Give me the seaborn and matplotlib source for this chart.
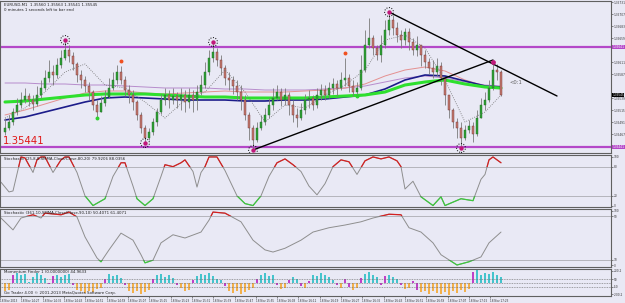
import numpy as np
import matplotlib
matplotlib.use("Agg")
import matplotlib.pyplot as plt
import matplotlib.transforms as mtransforms
from matplotlib.patches import Rectangle
import seaborn as sns

sns.set_theme(style="white")
plt.rcParams['font.family'] = ['DejaVu Sans']

# ---------------- data ----------------
first_open = 1.35471
close = [1.35479, 1.35491, 1.35511, 1.35525, 1.35535, 1.35543, 1.35535, 1.35527, 1.35545, 1.35559,
         1.35579, 1.35591, 1.35585, 1.35605, 1.35619, 1.35635, 1.35623, 1.35607, 1.35585, 1.35575,
         1.35563, 1.35551, 1.35525, 1.35511, 1.35529, 1.35541, 1.35559, 1.35575, 1.35591, 1.35575,
         1.35555, 1.35545, 1.35531, 1.35505, 1.35479, 1.35459, 1.35471, 1.35491, 1.35511, 1.35535,
         1.35545, 1.35535, 1.35543, 1.35535, 1.35545, 1.35531, 1.35545, 1.35535, 1.35551, 1.35565,
         1.35591, 1.35619, 1.35631, 1.35615, 1.35599, 1.35579, 1.35575, 1.35563, 1.35551, 1.35535,
         1.35505, 1.35479, 1.35455, 1.35479, 1.35491, 1.35505, 1.35525, 1.35539, 1.35551, 1.35535,
         1.35545, 1.35525, 1.35505, 1.35499, 1.35515, 1.35535, 1.35539, 1.35525, 1.35545, 1.35555,
         1.35545, 1.35559, 1.35567, 1.35559, 1.35575, 1.35579, 1.35563, 1.35551, 1.35559, 1.35595,
         1.35645, 1.35659, 1.35639, 1.35625, 1.35645, 1.35675, 1.35695, 1.35679, 1.35665, 1.35655,
         1.35671, 1.35651, 1.35635, 1.35645, 1.35625, 1.35611, 1.35599, 1.35591, 1.35603, 1.35579,
         1.35545, 1.35515, 1.35491, 1.35479, 1.35459, 1.35475, 1.35483, 1.35467, 1.35499, 1.35525,
         1.35535, 1.35559, 1.35595, 1.35591, 1.35545]
high = [1.35499, 1.35505, 1.35519, 1.35539, 1.35551, 1.35559, 1.35549, 1.35545, 1.35563, 1.35575,
        1.35595, 1.35615, 1.35605, 1.35619, 1.35635, 1.35655, 1.35645, 1.35631, 1.35611, 1.35595,
        1.35583, 1.35571, 1.35555, 1.35535, 1.35543, 1.35555, 1.35579, 1.35591, 1.35605, 1.35603,
        1.35583, 1.35565, 1.35555, 1.35535, 1.35511, 1.35485, 1.35479, 1.35499, 1.35519, 1.35547,
        1.35559, 1.35555, 1.35559, 1.35551, 1.35559, 1.35555, 1.35559, 1.35555, 1.35565, 1.35585,
        1.35611, 1.35635, 1.35651, 1.35639, 1.35625, 1.35605, 1.35591, 1.35583, 1.35575, 1.35565,
        1.35545, 1.35511, 1.35485, 1.35491, 1.35505, 1.35519, 1.35539, 1.35559, 1.35565, 1.35559,
        1.35559, 1.35551, 1.35535, 1.35519, 1.35529, 1.35547, 1.35555, 1.35545, 1.35559, 1.35567,
        1.35565, 1.35571, 1.35579, 1.35575, 1.35591, 1.35619, 1.35587, 1.35575, 1.35571, 1.35625,
        1.35675, 1.35699, 1.35665, 1.35645, 1.35665, 1.35695, 1.35711, 1.35705, 1.35691, 1.35675,
        1.35679, 1.35679, 1.35659, 1.35663, 1.35645, 1.35635, 1.35619, 1.35615, 1.35619, 1.35611,
        1.35579, 1.35545, 1.35519, 1.35499, 1.35491, 1.35485, 1.35495, 1.35491, 1.35515, 1.35539,
        1.35551, 1.35575, 1.35611, 1.35607, 1.35595]
low = [1.35465, 1.35475, 1.35485, 1.35505, 1.35519, 1.35529, 1.35523, 1.35515, 1.35523, 1.35539,
       1.35555, 1.35571, 1.35565, 1.35579, 1.35599, 1.35615, 1.35611, 1.35595, 1.35571, 1.35559,
       1.35551, 1.35535, 1.35515, 1.35499, 1.35511, 1.35523, 1.35539, 1.35555, 1.35567, 1.35567,
       1.35543, 1.35529, 1.35515, 1.35495, 1.35469, 1.35449, 1.35455, 1.35465, 1.35483, 1.35507,
       1.35525, 1.35519, 1.35527, 1.35519, 1.35515, 1.35511, 1.35519, 1.35511, 1.35515, 1.35545,
       1.35559, 1.35585, 1.35611, 1.35603, 1.35585, 1.35565, 1.35555, 1.35547, 1.35535, 1.35515,
       1.35495, 1.35455, 1.35435, 1.35451, 1.35475, 1.35485, 1.35499, 1.35515, 1.35535, 1.35523,
       1.35525, 1.35505, 1.35491, 1.35481, 1.35495, 1.35507, 1.35519, 1.35515, 1.35519, 1.35535,
       1.35535, 1.35539, 1.35547, 1.35543, 1.35555, 1.35563, 1.35551, 1.35543, 1.35543, 1.35555,
       1.35591, 1.35639, 1.35625, 1.35615, 1.35611, 1.35639, 1.35665, 1.35665, 1.35651, 1.35639,
       1.35645, 1.35635, 1.35625, 1.35623, 1.35603, 1.35599, 1.35587, 1.35579, 1.35583, 1.35565,
       1.35525, 1.35499, 1.35479, 1.35459, 1.35439, 1.35455, 1.35469, 1.35451, 1.35463, 1.35499,
       1.35515, 1.35531, 1.35555, 1.35575, 1.35543]

ma_bars = [0, 5, 10, 15, 20, 25, 30, 35, 40, 45, 50, 55, 60, 65, 70, 75, 80, 85, 90, 95, 100, 105, 110, 115, 120, 124]
ma_green = [1.35531, 1.35533, 1.35537, 1.35541, 1.35545, 1.35547, 1.35547, 1.35547, 1.35545, 1.35543,
            1.35541, 1.35541, 1.35539, 1.35539, 1.35539, 1.35539, 1.35541, 1.35543, 1.35545, 1.35551,
            1.35565, 1.35571, 1.35575, 1.35567, 1.35561, 1.35559]
ma_navy = [1.35495, 1.35501, 1.35511, 1.35521, 1.35531, 1.35539, 1.35541, 1.35539, 1.35537, 1.35535,
           1.35535, 1.35535, 1.35533, 1.35533, 1.35535, 1.35535, 1.35537, 1.35541, 1.35545, 1.35557,
           1.35575, 1.35585, 1.35583, 1.35573, 1.35563, 1.35561]
ma_salmon = [1.35505, 1.35515, 1.35527, 1.35539, 1.35549, 1.35553, 1.35553, 1.35549, 1.35547, 1.35549,
             1.35551, 1.35553, 1.35551, 1.35551, 1.35551, 1.35553, 1.35555, 1.35559, 1.35567, 1.35583,
             1.35595, 1.35601, 1.35593, 1.35575, 1.35563, 1.35559]
ma_lavender = [1.35569, 1.35569, 1.35567, 1.35567, 1.35565, 1.35565, 1.35563, 1.35561, 1.35559, 1.35559,
               1.35559, 1.35557, 1.35557, 1.35555, 1.35555, 1.35555, 1.35557, 1.35559, 1.35563, 1.35571,
               1.35579, 1.35583, 1.35579, 1.35571, 1.35565, 1.35563]
ma_dotted = [1.35499, 1.35519, 1.35551, 1.35591, 1.35607, 1.35565, 1.35559, 1.35531, 1.35499, 1.35535,
             1.35551, 1.35595, 1.35551, 1.35491, 1.35525, 1.35519, 1.35545, 1.35565, 1.35595, 1.35655,
             1.35665, 1.35639, 1.35575, 1.35491, 1.35511, 1.35545]

level_upper = 1.35641
level_lower = 1.35441
fractal_up = [15, 52, 96]
fractal_down = [35, 62, 114]
fractal_plain = [122]
signal_sell = [29, 85]
signal_buy = [23, 88]
trend_down = ([96, 138], [1.35711, 1.35543])
trend_up = ([62, 122], [1.35435, 1.35615])

st1_bars = [-1, 1, 2, 4, 5, 7, 8, 9, 10, 12, 14, 15, 16, 18, 20, 22, 25, 27, 29, 30, 32, 33, 35, 37, 39,
            40, 42, 44, 45, 47, 48, 49, 50, 51, 53, 55, 58, 60, 62, 64, 66, 68, 70, 72, 74, 76, 78, 80,
            82, 84, 86, 88, 90, 92, 94, 96, 98, 99, 100, 102, 104, 107, 109, 110, 114, 117, 119, 120,
            121, 122, 124]
st1_vals = [48, 28, 30, 100, 98, 68, 94, 100, 100, 68, 94, 100, 100, 68, 20, 0, 14, 60, 88, 88, 40, 14, 0,
            14, 60, 84, 80, 88, 94, 70, 38, 68, 80, 100, 100, 72, 20, 4, 0, 20, 60, 88, 96, 84, 70, 40,
            22, 45, 80, 94, 90, 64, 92, 100, 96, 100, 92, 80, 34, 50, 18, 0, 18, 0, 14, 10, 54, 64, 94,
            100, 88]
st2_bars = [-1, 2, 4, 7, 9, 10, 14, 16, 18, 20, 23, 24, 26, 29, 32, 34, 35, 37, 39, 42, 45, 49, 51, 52,
            55, 59, 62, 65, 67, 70, 74, 77, 81, 85, 89, 92, 96, 99, 101, 104, 107, 109, 113, 116, 119,
            121, 124]
st2_vals = [87, 65, 87, 93, 87, 96, 93, 98, 89, 52, 13, 6, 28, 59, 46, 19, 4, 9, 41, 56, 50, 61, 83, 98,
            96, 80, 46, 28, 24, 31, 46, 61, 69, 74, 80, 87, 94, 93, 69, 61, 41, 19, 0, 6, 15, 41, 61]
hist_vals = [-110, -90, 100, 130, 110, 120, 20, 80, 130, 100, 70, -15, 90, 110, 80, 100, 120, -30, -90,
             -110, -130, -100, -120, -80, -60, 50, 120, 90, 110, 70, -20, -100, -130, -110, -140, -120,
             -90, 60, 100, 120, 80, 110, 70, -30, -60, -110, -90, 40, 90, 120, 100, 130, 90, 60, 40, -40,
             -110, -130, -100, -140, -120, -90, -60, 50, 100, 130, 90, 110, -30, -80, -60, 40, 80, 60,
             -40, -70, 30, 110, 90, 130, 100, 80, 40, -30, -60, 60, -50, -90, -70, 70, 120, 140, 100,
             80, -30, 90, 110, 80, 60, -30, -80, -60, 30, -90, -120, -100, -140, -110, -130, -150, -120,
             -160, -100, -130, -90, -120, -80, 140, 170, 110, 130, 120, 150, 110, 80]

main_ticks = [1.35731, 1.35707, 1.35683, 1.35659, 1.35611, 1.35587, 1.35539, 1.35515, 1.35491, 1.35467]
time_labels = ["18 Nov 2013", "18 Nov 14:27", "18 Nov 14:35", "18 Nov 14:43", "18 Nov 14:51",
               "18 Nov 14:59", "18 Nov 15:07", "18 Nov 15:15", "18 Nov 15:23", "18 Nov 15:31",
               "18 Nov 15:39", "18 Nov 15:47", "18 Nov 15:55", "18 Nov 16:03", "18 Nov 16:11",
               "18 Nov 16:19", "18 Nov 16:27", "18 Nov 16:35", "18 Nov 16:43", "18 Nov 16:51",
               "18 Nov 16:59", "18 Nov 17:07", "18 Nov 17:15", "18 Nov 17:23"]

# ---------------- figure ----------------
W, H = 625, 303
BG = '#e9e9f5'
fig = plt.figure(figsize=(W / 100, H / 100), dpi=100, facecolor=BG)


def rect(x0, y0, x1, y1):
    return [x0 / W, 1 - y1 / H, (x1 - x0) / W, (y1 - y0) / H]


ax_m = fig.add_axes(rect(0, 1, 611, 153))
ax_s1 = fig.add_axes(rect(0, 155, 611, 207))
ax_s2 = fig.add_axes(rect(0, 209, 611, 267))
ax_h = fig.add_axes(rect(0, 269, 611, 296))
XL = (-1.25, 151.5)
LBL = 2.1
for a in (ax_m, ax_s1, ax_s2, ax_h):
    a.set_facecolor(BG)
    a.set_xlim(*XL)
    for s in a.spines.values():
        s.set_color('#606060')
        s.set_linewidth(0.8)
    a.yaxis.tick_right()
    a.tick_params(axis='y', labelsize=LBL, length=1.5, width=0.4, pad=0.6, colors='#303030')
    a.tick_params(axis='x', bottom=False, labelbottom=False)

# ---- main price panel ----
c = np.array(close)
o = np.array([first_open] + close[:-1])
hi = np.array(high)
lo = np.array(low)
xb = np.arange(len(c))
up = c >= o
ax_m.set_ylim(1.35429, 1.35733)

for lv in (level_upper, level_lower):
    ax_m.axhline(lv, color='#b448c8', lw=1.6, zorder=1)

sns.lineplot(x=ma_bars, y=ma_lavender, ax=ax_m, color='#b78ccc', lw=0.7, sort=False, zorder=2)
sns.lineplot(x=ma_bars, y=ma_salmon, ax=ax_m, color='#e49090', lw=0.7, sort=False, zorder=2)
sns.lineplot(x=ma_bars, y=ma_navy, ax=ax_m, color='#1c1c8a', lw=1.2, sort=False, zorder=3)
sns.lineplot(x=ma_bars, y=ma_green, ax=ax_m, color='#2ee02e', lw=2.2, sort=False, zorder=3)

ax_m.vlines(xb, lo, hi, color='#7a7a7a', lw=0.6, zorder=4)
body_bot = np.minimum(o, c)
body_h = np.maximum(np.abs(c - o), 0.000012)
ax_m.bar(xb[up], body_h[up], bottom=body_bot[up], width=0.72, color='#2f9e35',
         edgecolor='#1f6e25', lw=0.3, zorder=5)
ax_m.bar(xb[~up], body_h[~up], bottom=body_bot[~up], width=0.72, color='#c47a70',
         edgecolor='#703030', lw=0.3, zorder=5)

sns.lineplot(x=ma_bars, y=ma_dotted, ax=ax_m, color='#707070', lw=0.6, linestyle=':', sort=False, zorder=6)

ax_m.plot(trend_down[0], trend_down[1], color='black', lw=1.0, zorder=7)
ax_m.plot(trend_up[0], trend_up[1], color='black', lw=1.0, zorder=7)

fx = fractal_up + fractal_down
fy = [hi[i] for i in fractal_up] + [lo[i] for i in fractal_down]
ax_m.scatter(fx, fy, s=40, facecolor='none', edgecolor='black', linewidth=0.7,
             linestyle=':', zorder=8)
ax_m.scatter(fx, fy, s=10, color='#c0187a', zorder=9, linewidth=0)
ax_m.scatter(fractal_plain, [hi[i] for i in fractal_plain], s=12, color='#c0187a', zorder=9, linewidth=0)
tr_up = mtransforms.offset_copy(ax_m.transData, fig=fig, x=0, y=3.5, units='points')
ax_m.scatter(signal_sell, [hi[i] for i in signal_sell], s=8, color='#f05020', transform=tr_up,
             zorder=9, linewidth=0)
ax_m.scatter(signal_buy, [lo[i] for i in signal_buy], s=8, color='#30d030', zorder=9, linewidth=0)

ax_m.text(0.004, level_lower + 0.000015, "1.35441", transform=mtransforms.blended_transform_factory(
    ax_m.transAxes, ax_m.transData), color='#e01818', fontsize=7.3, va='bottom', ha='left', zorder=10)
ax_m.text(126.0, 1.35569, "<0:1", color='#606060', fontsize=3.8, va='center', ha='left')
ax_m.text(0.006, 0.985, "EURUSD,M1  1.35560 1.35563 1.35541 1.35545", transform=ax_m.transAxes,
          fontsize=2.8, va='top', color='#202020')
ax_m.text(0.006, 0.955, "0 minutes 1 seconds left to bar end", transform=ax_m.transAxes,
          fontsize=2.8, va='top', color='#202020')

ax_m.set_yticks(main_ticks)
ax_m.set_yticklabels([f"{v:.5f}" for v in main_ticks])
bt = mtransforms.blended_transform_factory(ax_m.transAxes, ax_m.transData)
for lv in (level_upper, level_lower):
    ax_m.text(1.002, lv, f"{lv:.5f}", transform=bt, fontsize=LBL, color='white', va='center', ha='left',
              bbox=dict(boxstyle='square,pad=0.12', fc='#b448c8', ec='none'), clip_on=False)
ax_m.text(1.002, c[-1], f"{c[-1]:.5f}", transform=bt, fontsize=LBL, color='white', va='center', ha='left',
          bbox=dict(boxstyle='square,pad=0.12', fc='black', ec='none'), clip_on=False)


# ---- oscillators ----
def oscillator(ax, xs, vals, top, bot):
    sns.lineplot(x=xs, y=vals, ax=ax, color='#8e8e8e', lw=0.7, sort=False)
    red, = ax.plot(xs, vals, color='#d42020', lw=0.9)
    red.set_clip_path(Rectangle((-10, top), 400, 500, transform=ax.transData))
    grn, = ax.plot(xs, vals, color='#3cc83c', lw=0.9)
    grn.set_clip_path(Rectangle((-10, bot - 500), 400, 500, transform=ax.transData))
    for lv in (top, bot):
        ax.axhline(lv, color='#707070', lw=0.6, ls=(0, (1.2, 1.2)))


ax_s1.set_ylim(-3, 104)
oscillator(ax_s1, st1_bars, st1_vals, 80, 20)
ax_s1.set_yticks([100, 80, 20, 0])
ax_s1.set_yticklabels(["100", "80", "20", "0"])
ax_s1.text(0.006, 0.97, "Stochastic (25,8,8,SMMA,Close/Close,80,20) 79.9206 88.0356",
           transform=ax_s1.transAxes, fontsize=2.8, va='top', color='#202020')

ax_s2.set_ylim(-3.7, 103.7)
oscillator(ax_s2, st2_bars, st2_vals, 90, 10)
ax_s2.set_yticks([100, 90, 10, 0])
ax_s2.set_yticklabels(["100", "90", "10", "0"])
ax_s2.text(0.006, 0.97, "Stochastic (361,10,SMMA,Close/Close,90,10) 50.4071 61.4071",
           transform=ax_s2.transAxes, fontsize=2.8, va='top', color='#202020')

# ---- histogram ----
hv = np.array(hist_vals)
sign_change = np.r_[False, np.sign(hv[1:]) != np.sign(hv[:-1])]
cols = np.where(sign_change, '#c040c8', np.where(hv > 0, '#45c4cc', '#f2b04c'))
ax_h.set_ylim(-170, 185)
ax_h.bar(np.arange(len(hv)), hv, width=0.5, color=cols, linewidth=0)
for lv in (50, 0, -50):
    ax_h.axhline(lv, color='#707070', lw=0.5, ls=(0, (1.2, 1.2)))
ax_h.set_yticks([165, 50, -50, -150])
ax_h.set_yticklabels(["200.2", "50", "-50", "-200.2"])
ax_h.text(0.006, 0.97, "Momentum Finder 1 (0.0000000) 44.9633", transform=ax_h.transAxes,
          fontsize=2.8, va='top', color='#202020')
ax_h.text(0.006, 0.03, "Go Trader 4.00 \u00a9 2001-2013 MetaQuotes Software Corp.", transform=ax_h.transAxes,
          fontsize=2.8, va='bottom', color='#202020')

tick_pos = np.arange(len(time_labels)) * 5.33 - 1.25
ax_h.set_xticks(tick_pos)
ax_h.set_xticklabels(time_labels, fontsize=2.0, ha='left')
ax_h.tick_params(axis='x', bottom=True, labelbottom=True, length=1.5, width=0.4, pad=0.4,
                 colors='#303030')

fig.savefig("out.png", dpi=100, facecolor=BG)
